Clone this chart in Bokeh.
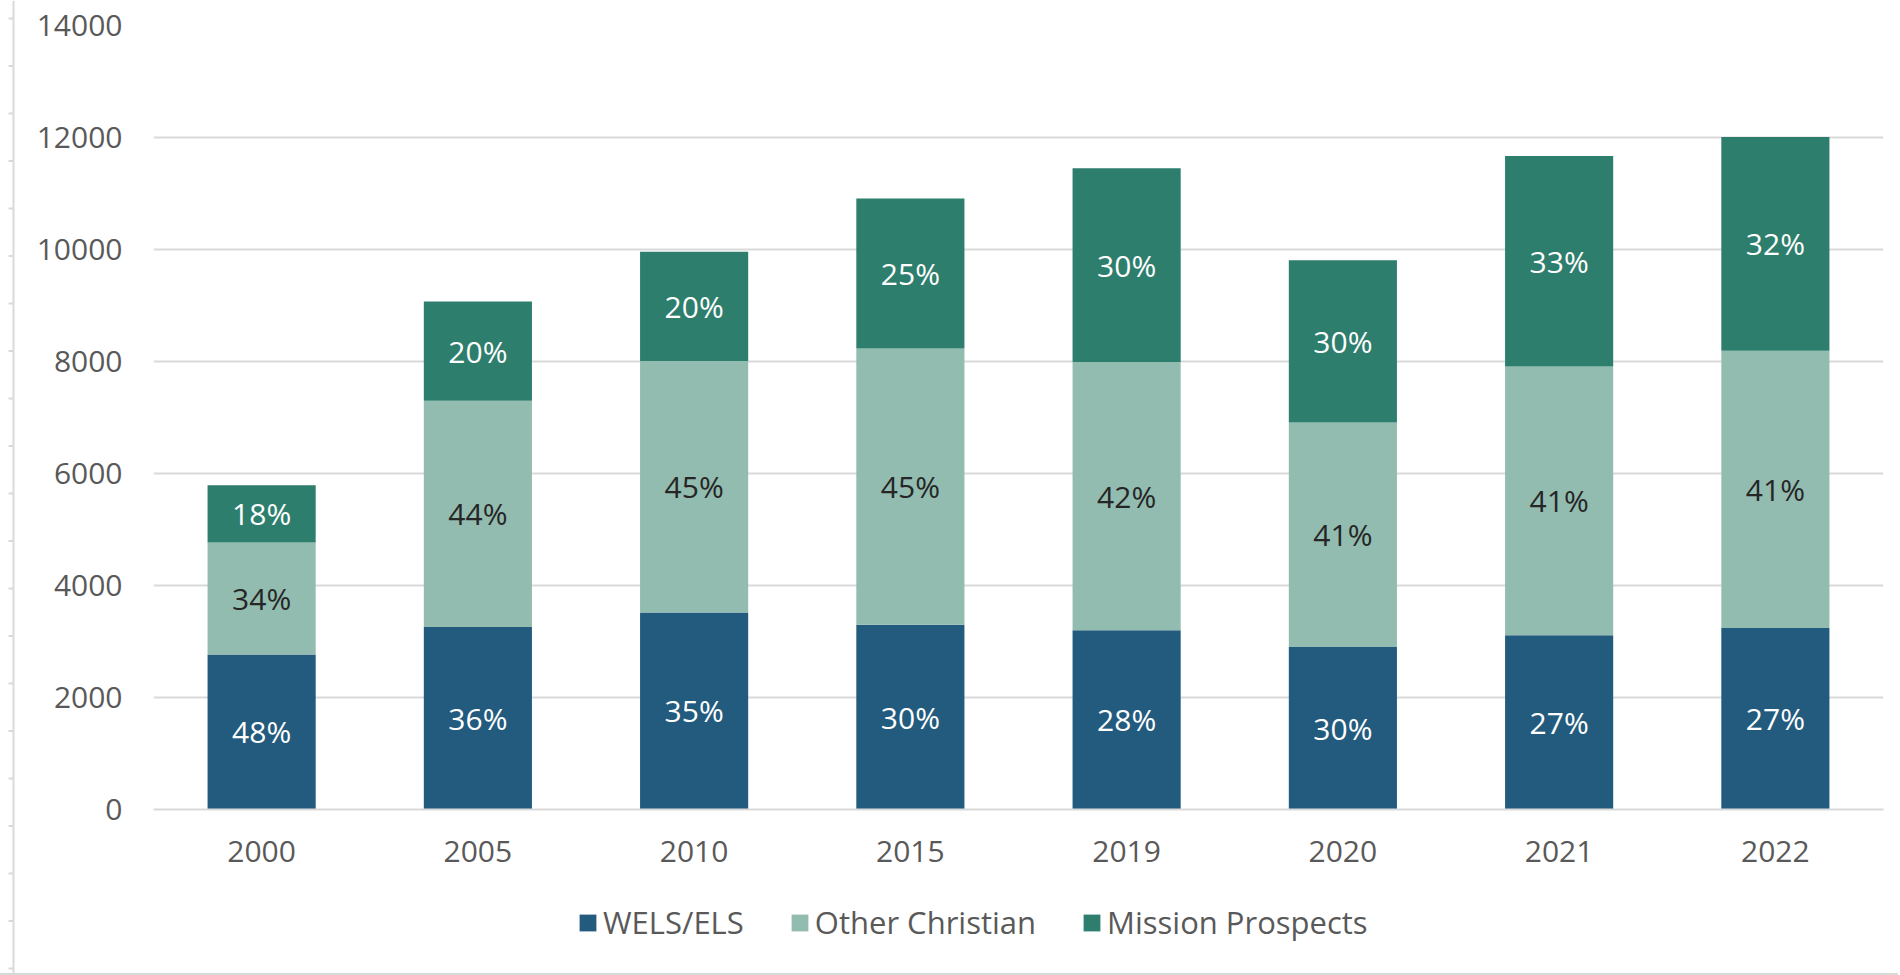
from bokeh.plotting import figure
from bokeh.models import ColumnDataSource, Range1d, FactorRange, FixedTicker, Legend, LegendItem
from bokeh.layouts import row, column
from bokeh.embed import file_html
from bokeh.resources import INLINE
from bokeh.core.properties import value

# ---------------- data ----------------
years = ["2000", "2005", "2010", "2015", "2019", "2020", "2021", "2022"]
wels = [2770, 3260, 3520, 3300, 3200, 2900, 3110, 3240]
other = [2000, 4040, 4490, 4930, 4790, 4010, 4800, 4950]
mission = [1020, 1770, 1950, 2680, 3460, 2900, 3760, 3820]
wels_pct = ["48%", "36%", "35%", "30%", "28%", "30%", "27%", "27%"]
other_pct = ["34%", "44%", "45%", "45%", "42%", "41%", "41%", "41%"]
mission_pct = ["18%", "20%", "20%", "25%", "30%", "30%", "33%", "32%"]
series = ["WELS/ELS", "Other Christian", "Mission Prospects"]
y_ticks = [0, 2000, 4000, 6000, 8000, 10000, 12000, 14000]

colors = ["#235B7E", "#93BCB0", "#2D7E6C"]
label_colors = ["#FFFFFF", "#262626", "#FFFFFF"]
FONT = "Open Sans"
GRAY = "#595959"
GRID = "#D9D9D9"

H_TOTAL = 973
H_MAIN = 895
W_MAIN = 1880

source = ColumnDataSource(dict(years=years, **{series[0]: wels, series[1]: other, series[2]: mission}))

p = figure(x_range=FactorRange(*years), y_range=Range1d(0, 14000),
           width=W_MAIN, height=H_MAIN,
           min_border_left=135, min_border_right=15, min_border_top=25,
           min_border_bottom=H_MAIN - 809,
           toolbar_location=None, output_backend="svg", outline_line_color=None,
           background_fill_color="white", border_fill_color="white")

renderers = p.vbar_stack(series, x="years", width=0.5, color=colors, line_color=None, source=source)

# segment labels, centred in each segment
stacks = [wels, other, mission]
pcts = [wels_pct, other_pct, mission_pct]
base = [0] * len(years)
for vals, txt, col in zip(stacks, pcts, label_colors):
    mids = [b + v / 2 for b, v in zip(base, vals)]
    base = [b + v for b, v in zip(base, vals)]
    lsrc = ColumnDataSource(dict(x=years, y=mids, t=txt))
    p.text(x="x", y="y", text="t", source=lsrc, text_align="center", text_baseline="middle",
           text_font=value(FONT), text_font_size="30px", text_color=col)

# axes
p.yaxis.ticker = FixedTicker(ticks=y_ticks)
p.yaxis.axis_line_color = None
p.yaxis.major_tick_line_color = None
p.yaxis.minor_tick_line_color = None
p.yaxis.major_tick_out = 0
p.yaxis.major_label_standoff = 31
p.yaxis.major_label_text_font = FONT
p.yaxis.major_label_text_font_size = "30px"
p.yaxis.major_label_text_color = GRAY

p.xaxis.axis_line_color = GRID
p.xaxis.axis_line_width = 2
p.xaxis.major_tick_line_color = None
p.xaxis.major_tick_out = 0
p.xaxis.major_label_standoff = 31
p.xaxis.major_label_text_font = FONT
p.xaxis.major_label_text_font_size = "30px"
p.xaxis.major_label_text_color = GRAY

p.xgrid.grid_line_color = None
p.ygrid.grid_line_color = GRID
p.ygrid.grid_line_width = 2

# legend strip below the chart: one swatch renderer per series, placed outside
# the strip's visible range so only the legend swatches show
H_LEG = H_TOTAL - H_MAIN
lf = figure(width=W_MAIN, height=H_LEG, x_range=Range1d(0, 1), y_range=Range1d(0, 1),
            min_border=0, x_axis_location=None, y_axis_location=None,
            toolbar_location=None, output_backend="svg", outline_line_color=None)
lf.grid.visible = False
swatches = [lf.vbar(x=[5], top=[0], bottom=[0], width=0.5, color=c, line_color=None) for c in colors]
legend = Legend(items=[LegendItem(label=s, renderers=[r]) for s, r in zip(series, swatches)],
                orientation="horizontal", location=(424, 30),
                glyph_width=21, glyph_height=21, label_standoff=5, spacing=45,
                padding=0, margin=0, border_line_color=None, background_fill_alpha=0,
                label_text_font=FONT, label_text_font_size="31px", label_text_color=GRAY)
lf.add_layout(legend, "center")

# thin border "ruler" on the left edge of the chart area
ruler = figure(width=18, height=H_TOTAL, x_range=Range1d(0, 18), y_range=Range1d(H_TOTAL, 0),
               min_border=0, x_axis_location=None, y_axis_location=None,
               toolbar_location=None, output_backend="svg", outline_line_color=None)
ruler.grid.visible = False
ticks_y = [18 + 47.5 * k for k in range(21)]
ruler.segment(x0=[13], y0=[0], x1=[13], y1=[H_TOTAL], line_color=GRID, line_width=2)
ruler.segment(x0=[8] * len(ticks_y), y0=ticks_y, x1=[13] * len(ticks_y), y1=ticks_y,
              line_color=GRID, line_width=2)

layout = row(ruler, column(p, lf), styles={"border-bottom": "2px solid #D9D9D9"})
open("out.html", "w").write(file_html(layout, INLINE))
